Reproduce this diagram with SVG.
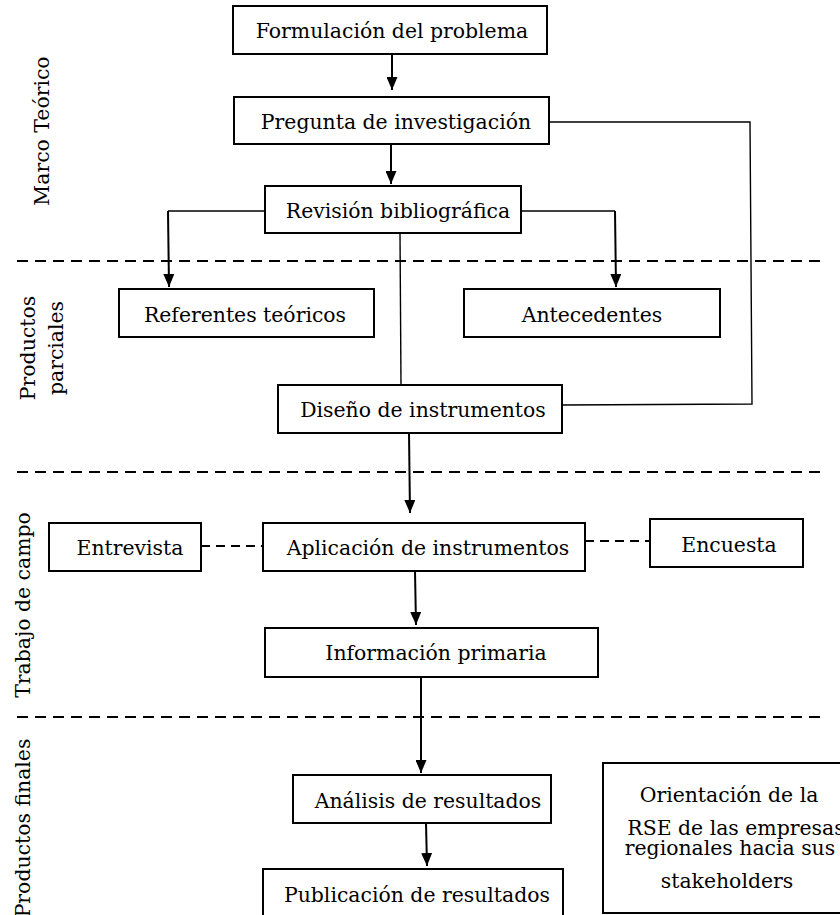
<svg xmlns="http://www.w3.org/2000/svg" width="840" height="915" viewBox="0 0 840 915">
<style>
.box{fill:#fff;stroke:#000;stroke-width:2}
.t{font-family:"DejaVu Serif","Liberation Serif",serif;font-size:20.4px;fill:#000;text-anchor:middle}
.side{font-family:"DejaVu Serif","Liberation Serif",serif;font-size:20.4px;fill:#000;text-anchor:middle}
.arr{fill:none;stroke:#000;stroke-width:2;marker-end:url(#ah)}
.thin{fill:none;stroke:#000;stroke-width:1.4}
.sep{fill:none;stroke:#000;stroke-width:2;stroke-dasharray:11 7}
.dash{fill:none;stroke:#000;stroke-width:1.8;stroke-dasharray:9 6}
</style>
<defs>
<marker id="ah" viewBox="0 0 13 11" refX="13" refY="5.5" markerWidth="13" markerHeight="11" markerUnits="userSpaceOnUse" orient="auto">
<path d="M0,0 L13,5.5 L0,11 z" fill="#000"/>
</marker>
</defs>
<rect width="840" height="915" fill="#fff"/>
<g id="separators">
<line class="sep" x1="17" y1="261" x2="822" y2="261"/>
<line class="sep" x1="17" y1="472" x2="822" y2="472"/>
<line class="sep" x1="17" y1="717" x2="822" y2="717"/>
</g>
<g id="section-labels">
<text class="side" transform="translate(49,131) rotate(-90)">Marco Teórico</text>
<text class="side" transform="translate(35,348) rotate(-90)">Productos</text>
<text class="side" transform="translate(63,348) rotate(-90)">parciales</text>
<text class="side" transform="translate(30,605) rotate(-90)">Trabajo de campo</text>
<text class="side" transform="translate(30,828) rotate(-90)">Productos finales</text>
</g>
<g id="connectors">
<path class="arr" d="M392,54 L392,90"/>
<path class="arr" d="M391,144 L391,184"/>
<path class="thin" d="M265,211 L168,211"/>
<path class="arr" d="M168,211 L169,287"/>
<path class="thin" d="M521,211 L615,211"/>
<path class="arr" d="M615,211 L616,287"/>
<path class="thin" d="M400,233 L401,385"/>
<path class="thin" d="M549,122 L750,122 L752,404 L562,405"/>
<path class="arr" d="M409,433 L410,513"/>
<path class="dash" d="M201,546 L263,546"/>
<path class="dash" d="M585,541 L650,541"/>
<path class="arr" d="M415,571 L416,625"/>
<path class="arr" d="M421,677 L421,773"/>
<path class="arr" d="M426,823 L427,866"/>
</g>
<g id="n-formulacion"><rect class="box" x="233" y="6" width="314" height="48"/><text class="t" x="392" y="38">Formulación del problema</text></g>
<g id="n-pregunta"><rect class="box" x="234" y="97" width="315" height="47"/><text class="t" x="396" y="129">Pregunta de investigación</text></g>
<g id="n-revision"><rect class="box" x="265" y="186" width="256" height="47"/><text class="t" x="398" y="218">Revisión bibliográfica</text></g>
<g id="n-referentes"><rect class="box" x="119" y="289" width="255" height="48"/><text class="t" x="245" y="322">Referentes teóricos</text></g>
<g id="n-antecedentes"><rect class="box" x="464" y="289" width="256" height="48"/><text class="t" x="592" y="322">Antecedentes</text></g>
<g id="n-diseno"><rect class="box" x="278" y="385" width="284" height="48"/><text class="t" x="423" y="417">Diseño de instrumentos</text></g>
<g id="n-entrevista"><rect class="box" x="49" y="523" width="152" height="48"/><text class="t" x="130" y="555">Entrevista</text></g>
<g id="n-aplicacion"><rect class="box" x="263" y="523" width="322" height="48"/><text class="t" x="428" y="555">Aplicación de instrumentos</text></g>
<g id="n-encuesta"><rect class="box" x="650" y="519" width="153" height="48"/><text class="t" x="729" y="552">Encuesta</text></g>
<g id="n-informacion"><rect class="box" x="265" y="628" width="333" height="49"/><text class="t" x="436" y="660">Información primaria</text></g>
<g id="n-analisis"><rect class="box" x="293" y="775" width="258" height="48"/><text class="t" x="428" y="808">Análisis de resultados</text></g>
<g id="n-publicacion"><rect class="box" x="263" y="869" width="300" height="60"/><text class="t" x="417" y="902">Publicación de resultados</text></g>
<g id="n-orientacion"><rect class="box" x="603" y="763" width="250" height="150"/>
<text class="t" x="729" y="802">Orientación de la</text>
<text class="t" x="736" y="835">RSE de las empresas</text>
<text class="t" x="730" y="855">regionales hacia sus</text>
<text class="t" x="727" y="888">stakeholders</text>
</g>
</svg>
